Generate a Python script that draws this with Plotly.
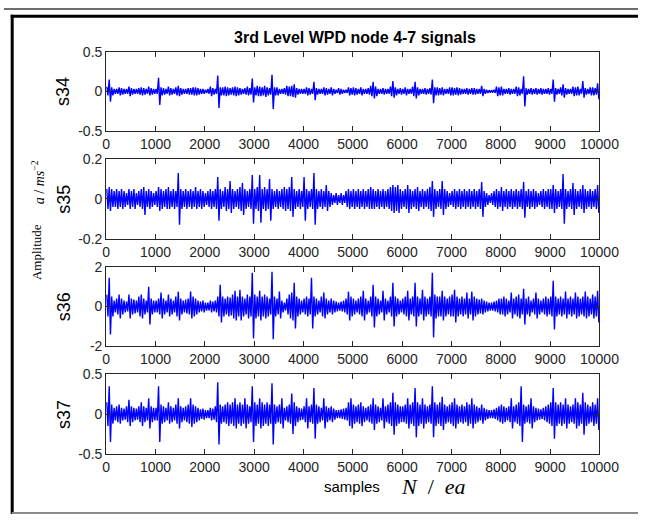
import plotly.graph_objects as go

W, H = 658, 522

# ---------------- data (envelope, 200 segments of 50 samples) ----
seg_len = 50
n_samples = 10000

s34_up = [0.06,0.15,0.05,0.03,0.03,0.05,0.04,0.03,0.03,0.06,0.04,0.03,0.03,0.04,0.05,0.04,0.03,0.06,0.04,0.03,
          0.03,0.17,0.05,0.04,0.03,0.06,0.04,0.03,0.05,0.07,0.04,0.03,0.03,0.04,0.04,0.05,0.05,0.04,0.03,0.03,
          0.02,0.03,0.06,0.04,0.03,0.20,0.05,0.05,0.06,0.05,0.04,0.05,0.06,0.05,0.04,0.03,0.04,0.06,0.04,0.16,
          0.05,0.07,0.06,0.05,0.07,0.05,0.04,0.21,0.05,0.05,0.03,0.03,0.04,0.07,0.06,0.07,0.09,0.04,0.03,0.03,
          0.03,0.05,0.04,0.03,0.12,0.04,0.03,0.03,0.05,0.04,0.03,0.05,0.03,0.02,0.04,0.03,0.02,0.02,0.05,0.04,
          0.05,0.04,0.03,0.05,0.03,0.03,0.04,0.07,0.12,0.06,0.03,0.03,0.04,0.03,0.03,0.06,0.13,0.05,0.03,0.04,
          0.03,0.05,0.03,0.03,0.06,0.12,0.05,0.03,0.03,0.04,0.03,0.04,0.15,0.05,0.05,0.04,0.05,0.03,0.03,0.05,
          0.05,0.04,0.05,0.04,0.03,0.03,0.04,0.03,0.04,0.04,0.03,0.03,0.07,0.03,0.02,0.015,0.015,0.02,0.06,0.05,
          0.06,0.03,0.03,0.04,0.03,0.03,0.06,0.05,0.03,0.19,0.04,0.03,0.04,0.03,0.04,0.03,0.04,0.03,0.03,0.04,
          0.03,0.15,0.04,0.03,0.05,0.09,0.04,0.03,0.03,0.06,0.05,0.06,0.03,0.13,0.04,0.03,0.05,0.05,0.04,0.10]
s34_lo = [-0.05,-0.13,-0.05,-0.03,-0.03,-0.05,-0.04,-0.03,-0.03,-0.06,-0.04,-0.03,-0.03,-0.04,-0.05,-0.04,-0.03,-0.05,-0.04,-0.03,
          -0.03,-0.17,-0.05,-0.04,-0.03,-0.05,-0.04,-0.03,-0.05,-0.06,-0.04,-0.03,-0.03,-0.04,-0.04,-0.05,-0.05,-0.04,-0.03,-0.03,
          -0.02,-0.03,-0.06,-0.04,-0.03,-0.21,-0.05,-0.05,-0.06,-0.05,-0.04,-0.05,-0.06,-0.05,-0.04,-0.03,-0.04,-0.05,-0.04,-0.14,
          -0.05,-0.06,-0.06,-0.05,-0.07,-0.05,-0.04,-0.22,-0.05,-0.05,-0.03,-0.03,-0.04,-0.06,-0.06,-0.07,-0.08,-0.04,-0.03,-0.03,
          -0.03,-0.05,-0.04,-0.03,-0.11,-0.04,-0.03,-0.03,-0.05,-0.04,-0.03,-0.05,-0.03,-0.02,-0.04,-0.03,-0.02,-0.02,-0.05,-0.04,
          -0.05,-0.04,-0.03,-0.05,-0.03,-0.03,-0.04,-0.06,-0.09,-0.06,-0.03,-0.03,-0.04,-0.03,-0.03,-0.06,-0.08,-0.05,-0.03,-0.04,
          -0.03,-0.05,-0.03,-0.03,-0.06,-0.09,-0.05,-0.03,-0.03,-0.04,-0.03,-0.04,-0.15,-0.05,-0.05,-0.04,-0.05,-0.03,-0.03,-0.05,
          -0.05,-0.04,-0.05,-0.04,-0.03,-0.03,-0.04,-0.03,-0.04,-0.04,-0.03,-0.03,-0.06,-0.03,-0.02,-0.015,-0.015,-0.02,-0.06,-0.05,
          -0.05,-0.03,-0.03,-0.04,-0.03,-0.03,-0.06,-0.05,-0.03,-0.19,-0.04,-0.03,-0.04,-0.03,-0.04,-0.03,-0.04,-0.03,-0.03,-0.04,
          -0.03,-0.13,-0.04,-0.03,-0.05,-0.08,-0.04,-0.03,-0.03,-0.06,-0.05,-0.05,-0.03,-0.08,-0.04,-0.03,-0.05,-0.05,-0.04,-0.10]

s35_up = [0.05,0.06,0.05,0.04,0.05,0.04,0.05,0.04,0.03,0.05,0.04,0.05,0.03,0.04,0.05,0.06,0.04,0.05,0.04,0.03,
          0.04,0.06,0.05,0.04,0.05,0.06,0.04,0.05,0.04,0.13,0.05,0.04,0.05,0.04,0.05,0.04,0.06,0.04,0.05,0.04,
          0.03,0.04,0.05,0.04,0.05,0.11,0.05,0.04,0.06,0.05,0.09,0.05,0.04,0.05,0.06,0.08,0.05,0.04,0.05,0.12,
          0.05,0.06,0.12,0.05,0.06,0.05,0.10,0.05,0.04,0.05,0.04,0.05,0.06,0.05,0.06,0.11,0.05,0.04,0.05,0.04,
          0.11,0.05,0.04,0.05,0.13,0.05,0.04,0.05,0.04,0.07,0.04,0.03,0.02,0.03,0.02,0.03,0.02,0.04,0.05,0.04,
          0.05,0.04,0.05,0.04,0.05,0.04,0.05,0.06,0.05,0.04,0.05,0.04,0.05,0.04,0.05,0.06,0.07,0.06,0.07,0.05,
          0.04,0.05,0.07,0.05,0.04,0.05,0.06,0.04,0.05,0.04,0.05,0.06,0.09,0.05,0.04,0.05,0.09,0.05,0.04,0.03,
          0.04,0.05,0.04,0.05,0.04,0.05,0.04,0.05,0.04,0.05,0.04,0.05,0.085,0.04,0.03,0.02,0.03,0.04,0.05,0.04,
          0.06,0.04,0.05,0.04,0.05,0.04,0.05,0.04,0.05,0.085,0.04,0.05,0.04,0.05,0.04,0.03,0.04,0.05,0.04,0.05,
          0.05,0.07,0.05,0.04,0.05,0.125,0.05,0.04,0.05,0.08,0.05,0.04,0.05,0.07,0.05,0.04,0.05,0.04,0.05,0.07]
s35_lo = [-0.05,-0.06,-0.04,-0.04,-0.05,-0.04,-0.05,-0.04,-0.03,-0.05,-0.04,-0.05,-0.03,-0.04,-0.05,-0.08,-0.04,-0.05,-0.04,-0.03,
          -0.04,-0.06,-0.05,-0.04,-0.05,-0.05,-0.04,-0.05,-0.04,-0.13,-0.05,-0.04,-0.05,-0.04,-0.05,-0.04,-0.05,-0.04,-0.05,-0.04,
          -0.03,-0.04,-0.05,-0.04,-0.05,-0.11,-0.05,-0.04,-0.06,-0.05,-0.07,-0.05,-0.04,-0.05,-0.06,-0.08,-0.05,-0.04,-0.05,-0.125,
          -0.05,-0.06,-0.12,-0.05,-0.06,-0.05,-0.11,-0.05,-0.04,-0.05,-0.04,-0.05,-0.06,-0.05,-0.06,-0.09,-0.05,-0.04,-0.05,-0.04,
          -0.11,-0.05,-0.04,-0.05,-0.13,-0.05,-0.04,-0.05,-0.04,-0.06,-0.04,-0.03,-0.02,-0.03,-0.02,-0.03,-0.02,-0.04,-0.05,-0.04,
          -0.05,-0.04,-0.05,-0.04,-0.05,-0.04,-0.05,-0.05,-0.05,-0.04,-0.05,-0.04,-0.05,-0.04,-0.05,-0.06,-0.07,-0.06,-0.07,-0.05,
          -0.04,-0.05,-0.07,-0.05,-0.04,-0.05,-0.06,-0.04,-0.05,-0.04,-0.05,-0.06,-0.09,-0.05,-0.04,-0.05,-0.08,-0.05,-0.04,-0.03,
          -0.04,-0.05,-0.04,-0.05,-0.04,-0.05,-0.04,-0.05,-0.04,-0.05,-0.04,-0.05,-0.09,-0.04,-0.03,-0.02,-0.03,-0.04,-0.05,-0.04,
          -0.06,-0.04,-0.05,-0.04,-0.05,-0.04,-0.05,-0.04,-0.05,-0.095,-0.04,-0.05,-0.04,-0.05,-0.04,-0.03,-0.04,-0.05,-0.04,-0.05,
          -0.05,-0.07,-0.05,-0.04,-0.05,-0.125,-0.05,-0.04,-0.05,-0.08,-0.05,-0.04,-0.05,-0.07,-0.05,-0.04,-0.05,-0.04,-0.05,-0.07]

s36_up = [0.6,1.45,0.5,0.3,0.4,0.6,0.4,0.3,0.25,0.6,0.4,0.35,0.3,0.5,0.6,0.4,0.3,1.0,0.4,0.3,
          0.3,0.4,0.7,0.4,0.3,0.6,0.4,0.3,0.5,0.75,0.4,0.3,0.35,0.4,0.75,0.5,0.4,0.3,0.25,0.3,
          0.2,0.2,0.3,0.25,0.3,0.5,1.1,0.5,0.4,0.5,0.45,0.6,0.8,0.5,0.85,0.5,0.4,0.6,0.5,1.7,
          0.6,0.5,0.8,0.5,0.6,0.5,0.4,1.75,0.5,0.4,0.75,0.3,0.2,0.4,0.6,0.7,1.2,0.5,0.4,0.3,
          0.4,0.5,0.4,1.45,0.5,0.4,0.3,0.5,0.7,0.4,0.3,0.4,0.3,0.25,0.2,0.25,0.3,0.4,0.75,0.5,
          0.4,0.3,0.4,0.5,0.8,0.4,0.3,0.5,1.1,0.5,0.4,0.3,0.8,0.4,0.3,0.5,1.2,0.5,0.4,0.3,
          0.4,0.5,0.8,0.4,0.5,1.2,0.5,0.4,0.85,0.5,0.4,0.5,1.7,0.6,0.5,0.5,0.8,0.5,0.4,0.5,
          0.6,0.85,0.5,0.4,0.5,0.4,0.7,0.4,0.75,0.5,0.4,0.35,0.4,0.3,0.25,0.2,0.2,0.25,0.3,0.4,
          0.4,0.5,0.4,0.3,0.7,0.4,0.5,0.6,0.4,0.9,0.4,0.5,0.3,0.4,0.7,0.4,0.3,0.4,0.5,0.4,
          0.5,1.3,0.5,0.4,0.5,0.4,0.75,0.4,0.5,0.4,0.7,0.5,0.4,0.5,0.75,0.5,0.4,0.6,0.5,0.8]
s36_lo = [-0.5,-1.4,-0.5,-0.3,-0.4,-0.6,-0.4,-0.3,-0.25,-0.6,-0.4,-0.35,-0.3,-0.5,-0.6,-0.4,-0.3,-0.9,-0.4,-0.3,
          -0.3,-0.4,-0.6,-0.4,-0.3,-0.5,-0.4,-0.3,-0.5,-0.7,-0.4,-0.3,-0.35,-0.4,-0.6,-0.5,-0.4,-0.3,-0.25,-0.3,
          -0.2,-0.2,-0.3,-0.25,-0.3,-0.5,-0.8,-0.5,-0.4,-0.5,-0.45,-0.6,-0.7,-0.5,-0.7,-0.5,-0.4,-0.6,-0.5,-1.6,
          -0.6,-0.5,-0.7,-0.5,-0.6,-0.5,-0.4,-1.65,-0.5,-0.4,-0.6,-0.3,-0.2,-0.4,-0.6,-0.7,-1.1,-0.5,-0.4,-0.3,
          -0.4,-0.5,-0.4,-1.1,-0.5,-0.4,-0.3,-0.5,-0.6,-0.4,-0.3,-0.4,-0.3,-0.25,-0.2,-0.25,-0.3,-0.4,-0.7,-0.5,
          -0.4,-0.3,-0.4,-0.5,-0.7,-0.4,-0.3,-0.5,-1.05,-0.5,-0.4,-0.3,-0.7,-0.4,-0.3,-0.5,-1.0,-0.5,-0.4,-0.3,
          -0.4,-0.5,-0.7,-0.4,-0.5,-1.0,-0.5,-0.4,-0.7,-0.5,-0.4,-0.5,-1.55,-0.6,-0.5,-0.5,-0.7,-0.5,-0.4,-0.5,
          -0.5,-0.8,-0.5,-0.4,-0.5,-0.4,-0.6,-0.4,-0.7,-0.5,-0.4,-0.35,-0.4,-0.3,-0.25,-0.2,-0.2,-0.25,-0.3,-0.4,
          -0.4,-0.5,-0.4,-0.3,-0.6,-0.4,-0.5,-0.6,-0.4,-0.9,-0.4,-0.5,-0.3,-0.4,-0.6,-0.4,-0.3,-0.4,-0.5,-0.4,
          -0.5,-1.15,-0.5,-0.4,-0.5,-0.4,-0.6,-0.4,-0.5,-0.4,-0.6,-0.5,-0.4,-0.5,-0.6,-0.5,-0.4,-0.6,-0.5,-0.8]

s37_up = [0.15,0.35,0.12,0.08,0.1,0.12,0.08,0.07,0.1,0.18,0.1,0.08,0.07,0.1,0.15,0.1,0.08,0.2,0.1,0.08,
          0.08,0.35,0.12,0.1,0.08,0.15,0.1,0.08,0.12,0.2,0.1,0.08,0.1,0.12,0.2,0.12,0.1,0.08,0.06,0.07,
          0.05,0.05,0.08,0.07,0.1,0.4,0.12,0.1,0.12,0.15,0.12,0.15,0.2,0.12,0.15,0.12,0.2,0.12,0.1,0.35,
          0.15,0.12,0.2,0.15,0.12,0.15,0.12,0.39,0.12,0.1,0.12,0.2,0.08,0.1,0.12,0.26,0.15,0.1,0.08,0.07,
          0.1,0.2,0.1,0.12,0.33,0.12,0.1,0.08,0.2,0.1,0.08,0.1,0.07,0.05,0.05,0.06,0.07,0.08,0.15,0.2,
          0.12,0.1,0.12,0.15,0.1,0.08,0.1,0.12,0.2,0.12,0.1,0.08,0.2,0.1,0.12,0.15,0.27,0.15,0.12,0.1,
          0.1,0.12,0.2,0.12,0.15,0.33,0.15,0.12,0.2,0.12,0.1,0.12,0.35,0.15,0.12,0.15,0.22,0.12,0.1,0.12,
          0.15,0.2,0.12,0.1,0.12,0.1,0.15,0.12,0.2,0.12,0.1,0.08,0.12,0.08,0.06,0.05,0.05,0.06,0.08,0.1,
          0.12,0.1,0.08,0.1,0.2,0.1,0.12,0.15,0.35,0.12,0.1,0.12,0.2,0.1,0.08,0.07,0.06,0.08,0.1,0.12,
          0.15,0.33,0.15,0.12,0.15,0.12,0.2,0.12,0.1,0.12,0.2,0.15,0.12,0.27,0.15,0.12,0.1,0.15,0.12,0.2]
s37_lo = [-0.15,-0.35,-0.12,-0.08,-0.1,-0.12,-0.08,-0.07,-0.1,-0.15,-0.1,-0.08,-0.07,-0.1,-0.15,-0.1,-0.08,-0.18,-0.1,-0.08,
          -0.08,-0.35,-0.12,-0.1,-0.08,-0.12,-0.1,-0.08,-0.12,-0.18,-0.1,-0.08,-0.1,-0.12,-0.16,-0.12,-0.1,-0.08,-0.06,-0.07,
          -0.05,-0.05,-0.08,-0.07,-0.1,-0.38,-0.12,-0.1,-0.12,-0.15,-0.12,-0.15,-0.18,-0.12,-0.15,-0.12,-0.18,-0.12,-0.1,-0.35,
          -0.15,-0.12,-0.18,-0.15,-0.12,-0.15,-0.12,-0.38,-0.12,-0.1,-0.12,-0.18,-0.08,-0.1,-0.12,-0.25,-0.15,-0.1,-0.08,-0.07,
          -0.1,-0.18,-0.1,-0.12,-0.31,-0.12,-0.1,-0.08,-0.18,-0.1,-0.08,-0.1,-0.07,-0.05,-0.05,-0.06,-0.07,-0.08,-0.15,-0.18,
          -0.12,-0.1,-0.12,-0.15,-0.1,-0.08,-0.1,-0.12,-0.2,-0.12,-0.1,-0.08,-0.18,-0.1,-0.12,-0.15,-0.26,-0.15,-0.12,-0.1,
          -0.1,-0.12,-0.18,-0.12,-0.15,-0.29,-0.15,-0.12,-0.18,-0.12,-0.1,-0.12,-0.29,-0.15,-0.12,-0.15,-0.2,-0.12,-0.1,-0.12,
          -0.15,-0.18,-0.12,-0.1,-0.12,-0.1,-0.15,-0.12,-0.18,-0.12,-0.1,-0.08,-0.12,-0.08,-0.06,-0.05,-0.05,-0.06,-0.08,-0.1,
          -0.12,-0.1,-0.08,-0.1,-0.18,-0.1,-0.12,-0.15,-0.35,-0.12,-0.1,-0.12,-0.18,-0.1,-0.08,-0.07,-0.06,-0.08,-0.1,-0.12,
          -0.15,-0.31,-0.15,-0.12,-0.15,-0.12,-0.18,-0.12,-0.1,-0.12,-0.18,-0.15,-0.12,-0.26,-0.15,-0.12,-0.1,-0.15,-0.12,-0.2]

series_names = ["s34", "s35", "s36", "s37"]
series_up = [s34_up, s35_up, s36_up, s37_up]
series_lo = [s34_lo, s35_lo, s36_lo, s37_lo]
y_limits = [0.5, 0.2, 2, 0.5]
y_tick_text = [["-0.5", "0", "0.5"], ["-0.2", "0", "0.2"], ["-2", "0", "2"], ["-0.5", "0", "0.5"]]
x_ticks = list(range(0, 10001, 1000))

# ---------------- layout geometry (pixels) ----------------
PL, PR = 106, 618
tops = [45, 156, 267, 378]
PH = 82

def px(x):
    return x / W

def py(y):
    return 1 - y / H

fig = go.Figure()
SANS = "Liberation Sans, Arial, sans-serif"
SERIF = "Liberation Serif, Times New Roman, serif"
font_tick = dict(family=SANS, size=14, color="#262626")
axis_color = "#262626"

for i in range(4):
    up, lo = series_up[i], series_lo[i]
    xs, ys = [], []
    for k in range(len(up)):
        xs.append(k * seg_len + seg_len * 0.25)
        ys.append(up[k])
        xs.append(k * seg_len + seg_len * 0.75)
        ys.append(lo[k])
    xa = "x" if i == 0 else f"x{i+1}"
    ya = "y" if i == 0 else f"y{i+1}"
    fig.add_trace(go.Scatter(x=xs, y=ys, mode="lines", line=dict(color="#0000ff", width=1.4),
                             xaxis=xa, yaxis=ya, showlegend=False, hoverinfo="skip"))
    lim = y_limits[i]
    xkey = "xaxis" if i == 0 else f"xaxis{i+1}"
    ykey = "yaxis" if i == 0 else f"yaxis{i+1}"
    fig.update_layout(**{
        xkey: dict(domain=[px(PL), px(PR)], range=[0, n_samples], anchor=ya,
                   tickvals=x_ticks, ticktext=[str(v) for v in x_ticks],
                   ticks="inside", ticklen=5, tickcolor=axis_color, tickwidth=1,
                   showline=True, linecolor=axis_color, linewidth=1, mirror="ticks",
                   showgrid=False, zeroline=False, tickfont=font_tick),
        ykey: dict(domain=[py(tops[i] + PH), py(tops[i])], range=[-lim, lim], anchor=xa,
                   tickvals=[-lim, 0, lim], ticktext=y_tick_text[i],
                   ticks="inside", ticklen=5, tickcolor=axis_color, tickwidth=1,
                   showline=True, linecolor=axis_color, linewidth=1, mirror="ticks",
                   showgrid=False, zeroline=False, tickfont=font_tick),
    })
    fig.add_annotation(x=px(62), y=py(tops[i] + PH / 2), xref="paper", yref="paper",
                       xanchor="center", yanchor="middle",
                       text=series_names[i], showarrow=False, textangle=-90,
                       font=dict(family=SANS, size=18, color="#000"))

def label(x, y, text, family, size):
    fig.add_annotation(x=px(x), y=py(y), xref="paper", yref="paper", xanchor="center",
                       yanchor="middle", text=text, showarrow=False,
                       font=dict(family=family, size=size, color="#000"))

label(364, 30, "<b>3rd Level WPD node 4-7 signals</b>", SANS, 16)
label(361, 494, "samples", SANS, 15)
label(446, 494, "<i>N</i>  /  <i>ea</i>", SERIF, 22)
fig.add_annotation(x=px(34), y=py(252), xref="paper", yref="paper", text="Amplitude",
                   xanchor="center", yanchor="middle", showarrow=False, textangle=-90,
                   font=dict(family=SERIF, size=13, color="#000"))
fig.add_annotation(x=px(36), y=py(180), xref="paper", yref="paper",
                   xanchor="center", yanchor="middle",
                   text="<i>a</i> / <i>ms</i><sup>−2</sup>", showarrow=False, textangle=-90,
                   font=dict(family=SERIF, size=14, color="#000"))

# outer frame
shapes = [
    dict(type="line", xref="paper", yref="paper", x0=0, x1=1, y0=py(1), y1=py(1),
         line=dict(color="#6e6e6e", width=2)),
    dict(type="line", xref="paper", yref="paper", x0=px(7), x1=1, y0=py(8.5), y1=py(8.5),
         line=dict(color="#000", width=3)),
    dict(type="line", xref="paper", yref="paper", x0=px(8.5), x1=px(8.5), y0=py(7), y1=0,
         line=dict(color="#000", width=3)),
    dict(type="line", xref="paper", yref="paper", x0=px(8), x1=1, y0=py(521), y1=py(521),
         line=dict(color="#8a8a8a", width=2)),
]
fig.update_layout(width=W, height=H, margin=dict(l=0, r=0, t=0, b=0),
                  paper_bgcolor="white", plot_bgcolor="white", shapes=shapes)

fig.write_html("out.html")
